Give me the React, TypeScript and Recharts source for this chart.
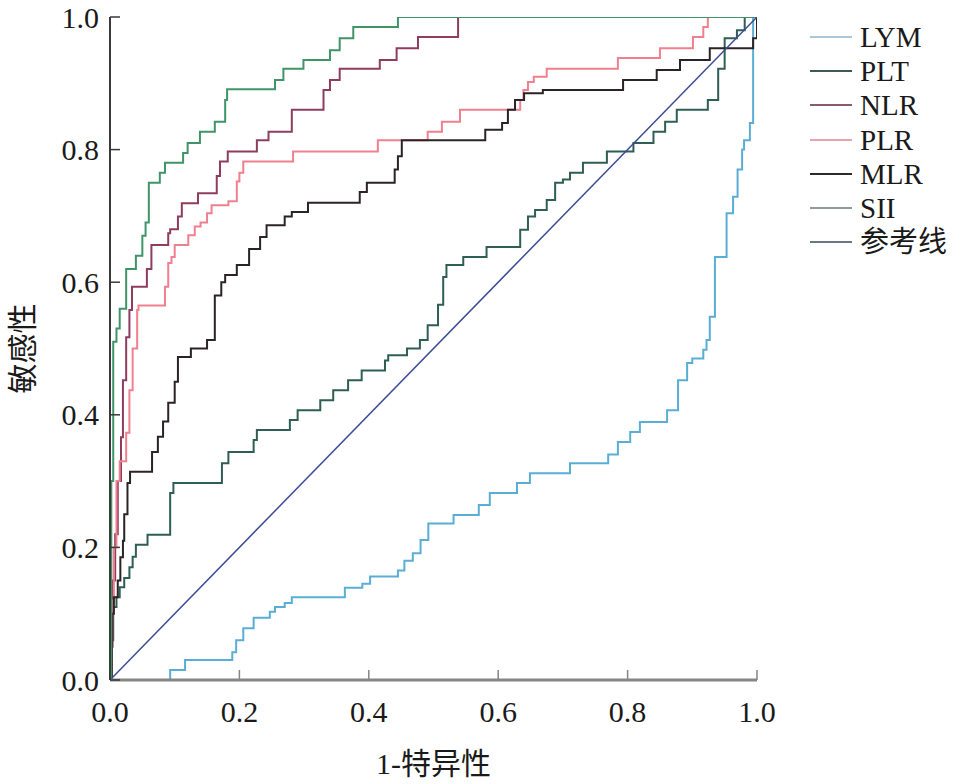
import { LineChart, Line, XAxis, YAxis } from "recharts";

// ROC curves: [1-特异性, 敏感性], one point per rise (step after)
const lymPoints = [
  [0, 0], [0.093, 0.015], [0.116, 0.03], [0.189, 0.042], [0.195, 0.06], [0.206, 0.078],
  [0.222, 0.094], [0.247, 0.103], [0.255, 0.11], [0.27, 0.116], [0.281, 0.125], [0.363, 0.139],
  [0.39, 0.145], [0.402, 0.156], [0.445, 0.165], [0.455, 0.18], [0.468, 0.191], [0.48, 0.211],
  [0.492, 0.236], [0.531, 0.249], [0.57, 0.264], [0.587, 0.282], [0.629, 0.297], [0.649, 0.312],
  [0.711, 0.327], [0.77, 0.34], [0.785, 0.359], [0.804, 0.374], [0.819, 0.389], [0.861, 0.407],
  [0.878, 0.452], [0.892, 0.478], [0.9, 0.485], [0.917, 0.498], [0.922, 0.513], [0.927, 0.548],
  [0.935, 0.638], [0.953, 0.704], [0.963, 0.729], [0.97, 0.77], [0.977, 0.8], [0.98, 0.814],
  [0.989, 0.84], [0.994, 1], [1, 1],
];

const pltPoints = [
  [0, 0], [0.002, 0.06], [0.005, 0.11], [0.01, 0.125], [0.015, 0.14], [0.022, 0.154],
  [0.03, 0.17], [0.035, 0.186], [0.04, 0.204], [0.058, 0.219], [0.093, 0.282], [0.098, 0.297],
  [0.173, 0.327], [0.183, 0.344], [0.222, 0.362], [0.227, 0.377], [0.278, 0.392], [0.29, 0.407],
  [0.325, 0.422], [0.345, 0.437], [0.368, 0.452], [0.389, 0.467], [0.425, 0.482], [0.43, 0.49],
  [0.459, 0.5], [0.479, 0.513], [0.491, 0.535], [0.507, 0.566], [0.515, 0.608], [0.52, 0.626],
  [0.546, 0.638], [0.582, 0.653], [0.634, 0.679], [0.646, 0.699], [0.657, 0.709], [0.675, 0.724],
  [0.688, 0.75], [0.7, 0.755], [0.711, 0.765], [0.731, 0.78], [0.768, 0.797], [0.809, 0.81],
  [0.84, 0.827], [0.858, 0.842], [0.876, 0.86], [0.924, 0.875], [0.94, 0.922], [0.95, 0.968],
  [0.969, 0.98], [0.981, 1], [1, 1],
];

const nlrPoints = [
  [0, 0], [0, 0.05], [0.004, 0.15], [0.008, 0.22], [0.012, 0.3], [0.017, 0.366], [0.02, 0.452],
  [0.025, 0.517], [0.03, 0.558], [0.034, 0.593], [0.057, 0.62], [0.064, 0.656], [0.09, 0.674],
  [0.093, 0.68], [0.105, 0.699], [0.111, 0.719], [0.136, 0.734], [0.165, 0.76], [0.17, 0.782],
  [0.182, 0.797], [0.227, 0.814], [0.245, 0.827], [0.281, 0.86], [0.33, 0.89], [0.34, 0.905],
  [0.355, 0.922], [0.417, 0.935], [0.443, 0.953], [0.476, 0.97], [0.538, 1], [1, 1],
];

const plrPoints = [
  [0, 0], [0, 0.05], [0.003, 0.12], [0.006, 0.2], [0.01, 0.3], [0.015, 0.33], [0.025, 0.373],
  [0.03, 0.437], [0.035, 0.5], [0.042, 0.558], [0.044, 0.565], [0.085, 0.593], [0.09, 0.629],
  [0.095, 0.638], [0.1, 0.656], [0.121, 0.671], [0.131, 0.684], [0.14, 0.69], [0.15, 0.704],
  [0.157, 0.716], [0.183, 0.722], [0.196, 0.752], [0.2, 0.765], [0.206, 0.782], [0.283, 0.797],
  [0.414, 0.814], [0.491, 0.827], [0.513, 0.842], [0.541, 0.86], [0.634, 0.875], [0.639, 0.89],
  [0.646, 0.902], [0.655, 0.91], [0.675, 0.922], [0.785, 0.938], [0.85, 0.953], [0.901, 0.97],
  [0.917, 0.985], [0.924, 1], [1, 1],
];

const mlrPoints = [
  [0, 0], [0.003, 0.1], [0.006, 0.125], [0.012, 0.15], [0.016, 0.185], [0.02, 0.21],
  [0.022, 0.25], [0.027, 0.297], [0.031, 0.314], [0.065, 0.344], [0.074, 0.367], [0.082, 0.39],
  [0.09, 0.418], [0.1, 0.45], [0.105, 0.487], [0.125, 0.5], [0.15, 0.513], [0.162, 0.58],
  [0.172, 0.6], [0.178, 0.611], [0.196, 0.626], [0.215, 0.65], [0.232, 0.668], [0.242, 0.686],
  [0.27, 0.699], [0.281, 0.706], [0.306, 0.72], [0.386, 0.736], [0.397, 0.75], [0.44, 0.77],
  [0.445, 0.79], [0.451, 0.814], [0.58, 0.83], [0.606, 0.84], [0.615, 0.86], [0.626, 0.875],
  [0.64, 0.885], [0.669, 0.89], [0.793, 0.905], [0.845, 0.92], [0.881, 0.935], [0.927, 0.953],
  [0.994, 0.968], [1, 1],
];

const siiPoints = [
  [0, 0], [0.002, 0.3], [0.005, 0.51], [0.01, 0.53], [0.015, 0.56], [0.025, 0.62], [0.04, 0.64],
  [0.05, 0.67], [0.055, 0.69], [0.06, 0.75], [0.077, 0.765], [0.085, 0.78], [0.113, 0.795],
  [0.12, 0.81], [0.139, 0.827], [0.162, 0.842], [0.178, 0.875], [0.181, 0.891], [0.255, 0.905],
  [0.268, 0.922], [0.299, 0.935], [0.34, 0.95], [0.355, 0.968], [0.376, 0.985], [0.445, 1], [1, 1],
];

const refPoints = [[0, 0], [1, 1]];

const seriesNames = ["LYM", "PLT", "NLR", "PLR", "MLR", "SII", "参考线"];
const seriesPoints = [lymPoints, pltPoints, nlrPoints, plrPoints, mlrPoints, siiPoints, refPoints];
const lineColors = ["#5aaed6", "#2f5e52", "#8e3c60", "#f0808f", "#2b2326", "#3f9468", "#3d4c96"];
const legendColors = ["#a9c7d6", "#3e5a54", "#8c5a6e", "#e7a3b2", "#2b2b2b", "#8f9b9b", "#6c7785"];

const axisTicks = [0, 0.2, 0.4, 0.6, 0.8, 1.0];

const SERIF = "'Liberation Serif', 'Times New Roman', 'Noto Sans CJK SC', serif";

const toRows = (pts: number[][]) => pts.map(([x, y]) => ({ x, y }));

const App = () => {
  return (
    <div style={{ position: "absolute", left: 0, top: 0, width: 962, height: 784, background: "#fff", fontFamily: SERIF }}>
      <LineChart width={962} height={784} margin={{ top: 17, right: 205, bottom: 0, left: 0 }}>
        <XAxis
          dataKey="x"
          type="number"
          domain={[0, 1]}
          ticks={axisTicks}
          tickFormatter={(v: number) => v.toFixed(1)}
          height={104}
          axisLine={{ stroke: "#858585", strokeWidth: 3 }}
          tickLine={{ stroke: "#858585", strokeWidth: 1.5 }}
          tickSize={-10}
          tickMargin={31}
          tick={{ fill: "#1a1a1a", fontSize: 30, fontFamily: SERIF }}
          label={{ value: "1-特异性", position: "insideBottom", offset: 10, fill: "#1a1a1a", fontSize: 30, fontFamily: SERIF }}
          allowDataOverflow
        />
        <YAxis
          dataKey="y"
          type="number"
          domain={[0, 1]}
          ticks={axisTicks}
          tickFormatter={(v: number) => v.toFixed(1)}
          width={110}
          axisLine={{ stroke: "#3a3a3a", strokeWidth: 2 }}
          tickLine={{ stroke: "#3a3a3a", strokeWidth: 1.5 }}
          tickSize={-10}
          tickMargin={21}
          tick={{ fill: "#1a1a1a", fontSize: 30, fontFamily: SERIF }}
          label={{ value: "敏感性", angle: -90, position: "center", dx: -33, fill: "#1a1a1a", fontSize: 30, fontFamily: SERIF }}
          allowDataOverflow
        />
        {seriesPoints.map((pts, i) => (
          <Line
            key={seriesNames[i]}
            data={toRows(pts)}
            dataKey="y"
            name={seriesNames[i]}
            type={i === seriesPoints.length - 1 ? "linear" : "stepAfter"}
            stroke={lineColors[i]}
            strokeWidth={i === seriesPoints.length - 1 ? 1.5 : 2}
            dot={false}
            activeDot={false}
            isAnimationActive={false}
          />
        ))}
      </LineChart>

      <div style={{ position: "absolute", left: 810, top: 20 }}>
        {seriesNames.map((name, i) => (
          <div key={name} style={{ display: "flex", alignItems: "center", height: 34.2 }}>
            <svg width={42} height={4} style={{ marginRight: 8 }}>
              <line x1={0} y1={2} x2={42} y2={2} stroke={legendColors[i]} strokeWidth={2} />
            </svg>
            <span style={{ fontSize: 29, color: "#1a1a1a", lineHeight: "34px" }}>{name}</span>
          </div>
        ))}
      </div>
    </div>
  );
};

export default App;
